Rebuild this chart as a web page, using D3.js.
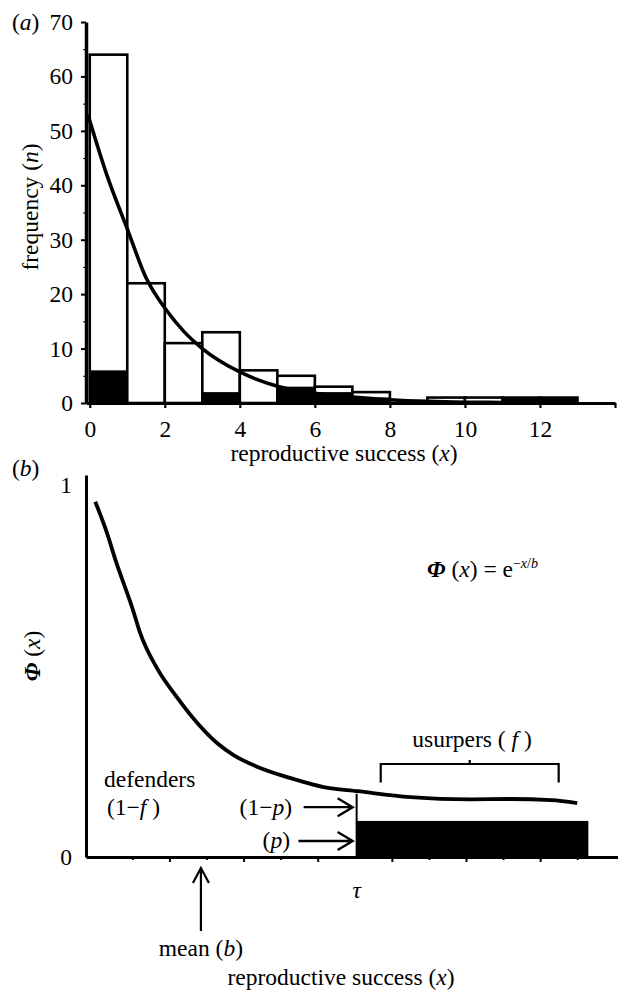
<!DOCTYPE html>
<html>
<head>
<meta charset="utf-8">
<script src="https://cdn.jsdelivr.net/npm/d3@7"></script>
<style>
  body { margin: 0; background: #fff; }
</style>
</head>
<body>
<div id="chart"></div>
<script>
// ---- data, panel (a) ----
var successBins = [0, 1, 2, 3, 4, 5, 6, 7, 8, 9, 10, 11, 12];
var totalCounts = [64, 22, 11, 13, 6, 5, 3, 2, 0, 1, 1, 1, 1];
var usurperCounts = [6, 0, 0, 2, 0, 3, 2, 1, 0, 0, 0, 1, 1];
var fitX = [-0.05, 0.45, 1.0, 1.5, 2.05, 2.5, 3.0, 4.0, 5.05, 6, 7, 8, 9, 10, 11, 12];
var fitY = [53, 42, 32, 23, 17, 13.2, 10, 5.7, 3, 1.8, 1.1, 0.6, 0.3, 0.15, 0.1, 0.05];
var xTicksA = [0, 2, 4, 6, 8, 10, 12];
var yTicksA = [0, 10, 20, 30, 40, 50, 60, 70];

// ---- data, panel (b) ----
var phiX = [0, 0.32, 0.54, 1.03, 1.2, 1.68, 2.2, 2.8, 3.3, 3.73, 4.38, 5.27, 6.16, 7.08, 8.5, 10.1, 11.2, 12.3, 13.0];
var phiY = [0.955, 0.87, 0.8, 0.66, 0.605, 0.505, 0.43, 0.355, 0.305, 0.274, 0.242, 0.212, 0.188, 0.177, 0.161, 0.155, 0.156, 0.153, 0.145];
var tau = 7.05;
var tauLineTop = 0.17;
var pBlock = [7.05, 13.3];
var pHeight = 0.097;
var meanB = 2.85;
var usurperBracket = [7.7, 12.5];
var arrowLevels = [0.134, 0.043];
var yTicksB = [0, 1];

var width = 618, height = 991;
var fontSize = 23.5;
var serif = "'Liberation Serif', 'Times New Roman', Times, serif";

var svg = d3.select("#chart")
  .append("svg")
    .attr("width", width)
    .attr("height", height)
    .attr("font-family", serif)
    .attr("font-size", fontSize);

function label(x, y, html, anchor) {
  return svg.append("text")
    .attr("x", x).attr("y", y)
    .attr("text-anchor", anchor || "start")
    .attr("font-family", serif)
    .attr("font-size", fontSize)
    .html(html);
}

// ================= panel (a) =================
var xA = d3.scaleLinear().domain([-0.1, 14]).range([86, 615]);
var yA = d3.scaleLinear().domain([0, 70]).range([403, 22]);

var gA = svg.append("g");

// bars (total)
gA.selectAll(".bar")
  .data(successBins)
  .enter().append("rect")
    .attr("x", function(d) { return xA(d); })
    .attr("width", function(d) { return xA(d + 1) - xA(d); })
    .attr("y", function(d, i) { return yA(totalCounts[i]); })
    .attr("height", function(d, i) { return yA(0) - yA(totalCounts[i]); })
    .attr("fill", "#fff")
    .attr("stroke", "#000")
    .attr("stroke-width", 2.6);

// black part (usurpers)
gA.selectAll(".black")
  .data(successBins)
  .enter().append("rect")
    .attr("x", function(d) { return xA(d); })
    .attr("width", function(d) { return xA(d + 1) - xA(d); })
    .attr("y", function(d, i) { return yA(usurperCounts[i]); })
    .attr("height", function(d, i) { return yA(0) - yA(usurperCounts[i]); })
    .attr("fill", "#000");

// fitted curve
gA.append("path")
  .datum(d3.range(fitX.length))
  .attr("fill", "none")
  .attr("stroke", "#000")
  .attr("stroke-width", 3.6)
  .attr("stroke-linejoin", "round")
  .attr("d", d3.line()
    .curve(d3.curveMonotoneX)
    .x(function(i) { return xA(fitX[i]); })
    .y(function(i) { return yA(fitY[i]); }));

// Add Y axis
var yAxisA = gA.append("g")
  .attr("transform", "translate(86,0)")
  .call(d3.axisLeft(yA).tickValues(yTicksA).tickSize(5).tickSizeOuter(0).tickPadding(8))
  .attr("font-family", serif).attr("font-size", fontSize);
yAxisA.select(".domain").attr("stroke-width", 3.5);
yAxisA.selectAll(".tick line").attr("stroke-width", 2);
gA.append("g")
  .attr("transform", "translate(86,0)")
  .call(d3.axisLeft(yA).tickValues([5, 15, 25, 35, 45, 55, 65]).tickSize(3).tickFormat(""))
  .call(function(g) { g.select(".domain").remove(); });

// Add X axis
var xAxisA = gA.append("g")
  .attr("transform", "translate(0," + yA(0) + ")")
  .call(d3.axisBottom(xA).tickValues(xTicksA).tickSize(5).tickSizeOuter(0).tickPadding(12))
  .attr("font-family", serif).attr("font-size", fontSize);
xAxisA.select(".domain").attr("stroke-width", 3);
xAxisA.selectAll(".tick line").attr("stroke-width", 2.2);
gA.append("g")
  .attr("transform", "translate(0," + yA(0) + ")")
  .call(d3.axisBottom(xA).tickValues([14]).tickSize(5).tickFormat(""))
  .call(function(g) { g.select(".domain").remove(); g.selectAll("line").attr("stroke-width", 2.2); });

// labels
label(12, 30, '(<tspan font-style="italic">a</tspan>)');
svg.append("text")
  .attr("transform", "translate(38,207) rotate(-90)")
  .attr("text-anchor", "middle")
  .attr("font-family", serif).attr("font-size", fontSize)
  .html('frequency (<tspan font-style="italic">n</tspan>)');
label(344, 461, 'reproductive success (<tspan font-style="italic">x</tspan>)', "middle");

// ================= panel (b) =================
var xB = d3.scaleLinear().domain([-0.25, 14.1]).range([86, 618]);
var yB = d3.scaleLinear().domain([0, 1.027]).range([857, 475]);

var gB = svg.append("g");

// p block
gB.append("rect")
  .attr("x", xB(pBlock[0]))
  .attr("width", xB(pBlock[1]) - xB(pBlock[0]))
  .attr("y", yB(pHeight))
  .attr("height", yB(0) - yB(pHeight))
  .attr("fill", "#000");

// tau line
gB.append("line")
  .attr("x1", xB(tau)).attr("x2", xB(tau))
  .attr("y1", yB(0)).attr("y2", yB(tauLineTop))
  .attr("stroke", "#000").attr("stroke-width", 2);

// phi curve
gB.append("path")
  .datum(d3.range(phiX.length))
  .attr("fill", "none")
  .attr("stroke", "#000")
  .attr("stroke-width", 3.8)
  .attr("stroke-linejoin", "round")
  .attr("d", d3.line()
    .curve(d3.curveMonotoneX)
    .x(function(i) { return xB(phiX[i]); })
    .y(function(i) { return yB(phiY[i]); }));

// Add Y axis
var yAxisB = gB.append("g")
  .attr("transform", "translate(86,0)")
  .call(d3.axisLeft(yB).tickValues(yTicksB).tickFormat(d3.format("d")).tickSize(0).tickSizeOuter(0).tickPadding(14))
  .attr("font-family", serif).attr("font-size", fontSize);
yAxisB.select(".domain").attr("stroke-width", 3);

// Add X axis (no labels)
var xAxisB = gB.append("g")
  .attr("transform", "translate(0," + yB(0) + ")")
  .call(d3.axisBottom(xB).tickValues([2, 4, 6, 8, 10, 12]).tickSize(5).tickSizeOuter(0).tickFormat(""));
xAxisB.select(".domain").attr("stroke-width", 3);
xAxisB.selectAll(".tick line").attr("stroke-width", 2);
gB.append("g")
  .attr("transform", "translate(0," + yB(0) + ")")
  .call(d3.axisBottom(xB).tickValues([1, 3, 5, 9, 11, 13]).tickSize(3).tickFormat(""))
  .call(function(g) { g.select(".domain").remove(); g.selectAll("line").attr("stroke-width", 2); });

// usurpers bracket
var brY = yB(0.25), brDrop = yB(0.2);
var brMid = xB((usurperBracket[0] + usurperBracket[1]) / 2);
gB.append("path")
  .attr("fill", "none").attr("stroke", "#000").attr("stroke-width", 2.2)
  .attr("d", "M" + xB(usurperBracket[0]) + "," + brDrop + "V" + brY +
             "H" + xB(usurperBracket[1]) + "V" + brDrop +
             "M" + brMid + "," + brY + "V" + (brY - 4));

// horizontal arrows (1-p) and (p)
var arrowStart = [5.62, 5.48];
arrowLevels.forEach(function(v, i) {
  var x0 = xB(arrowStart[i]), x1 = xB(tau) - 4, yy = yB(v);
  gB.append("path")
    .attr("fill", "none").attr("stroke", "#000").attr("stroke-width", 2.4)
    .attr("d", "M" + x0 + "," + yy + "H" + x1 +
               "M" + (x1 - 15) + "," + (yy - 9) + "L" + x1 + "," + yy + "L" + (x1 - 15) + "," + (yy + 9));
});

// mean arrow
var mx = xB(meanB), tipY = yB(0) + 11, tailY = yB(0) + 74;
gB.append("path")
  .attr("fill", "none").attr("stroke", "#000").attr("stroke-width", 2.2)
  .attr("d", "M" + mx + "," + tailY + "V" + tipY +
             "M" + (mx - 8) + "," + (tipY + 15) + "L" + mx + "," + tipY + "L" + (mx + 8) + "," + (tipY + 15));

// text
label(12, 476, '(<tspan font-style="italic">b</tspan>)');
svg.append("text")
  .attr("transform", "translate(40,656) rotate(-90)")
  .attr("text-anchor", "middle")
  .attr("font-family", serif).attr("font-size", fontSize)
  .html('<tspan font-style="italic" font-weight="bold">Φ</tspan> (<tspan font-style="italic">x</tspan>)');
label(427, 577, '<tspan font-style="italic" font-weight="bold">Φ</tspan> (<tspan font-style="italic">x</tspan>) = e<tspan dy="-9" font-size="14">−<tspan font-style="italic">x</tspan>/<tspan font-style="italic">b</tspan></tspan>');
label(472, 747, 'usurpers ( <tspan font-style="italic">f</tspan> )', "middle");
label(104, 787, 'defenders');
label(107, 815, '(1−<tspan font-style="italic">f</tspan> )');
label(292, 815, '(1−<tspan font-style="italic">p</tspan>)', "end");
label(290, 848, '(<tspan font-style="italic">p</tspan>)', "end");
label(xB(tau), 898, '<tspan font-style="italic">τ</tspan>', "middle");
label(mx, 956, 'mean (<tspan font-style="italic">b</tspan>)', "middle");
label(341, 985, 'reproductive success (<tspan font-style="italic">x</tspan>)', "middle");
</script>
</body>
</html>
